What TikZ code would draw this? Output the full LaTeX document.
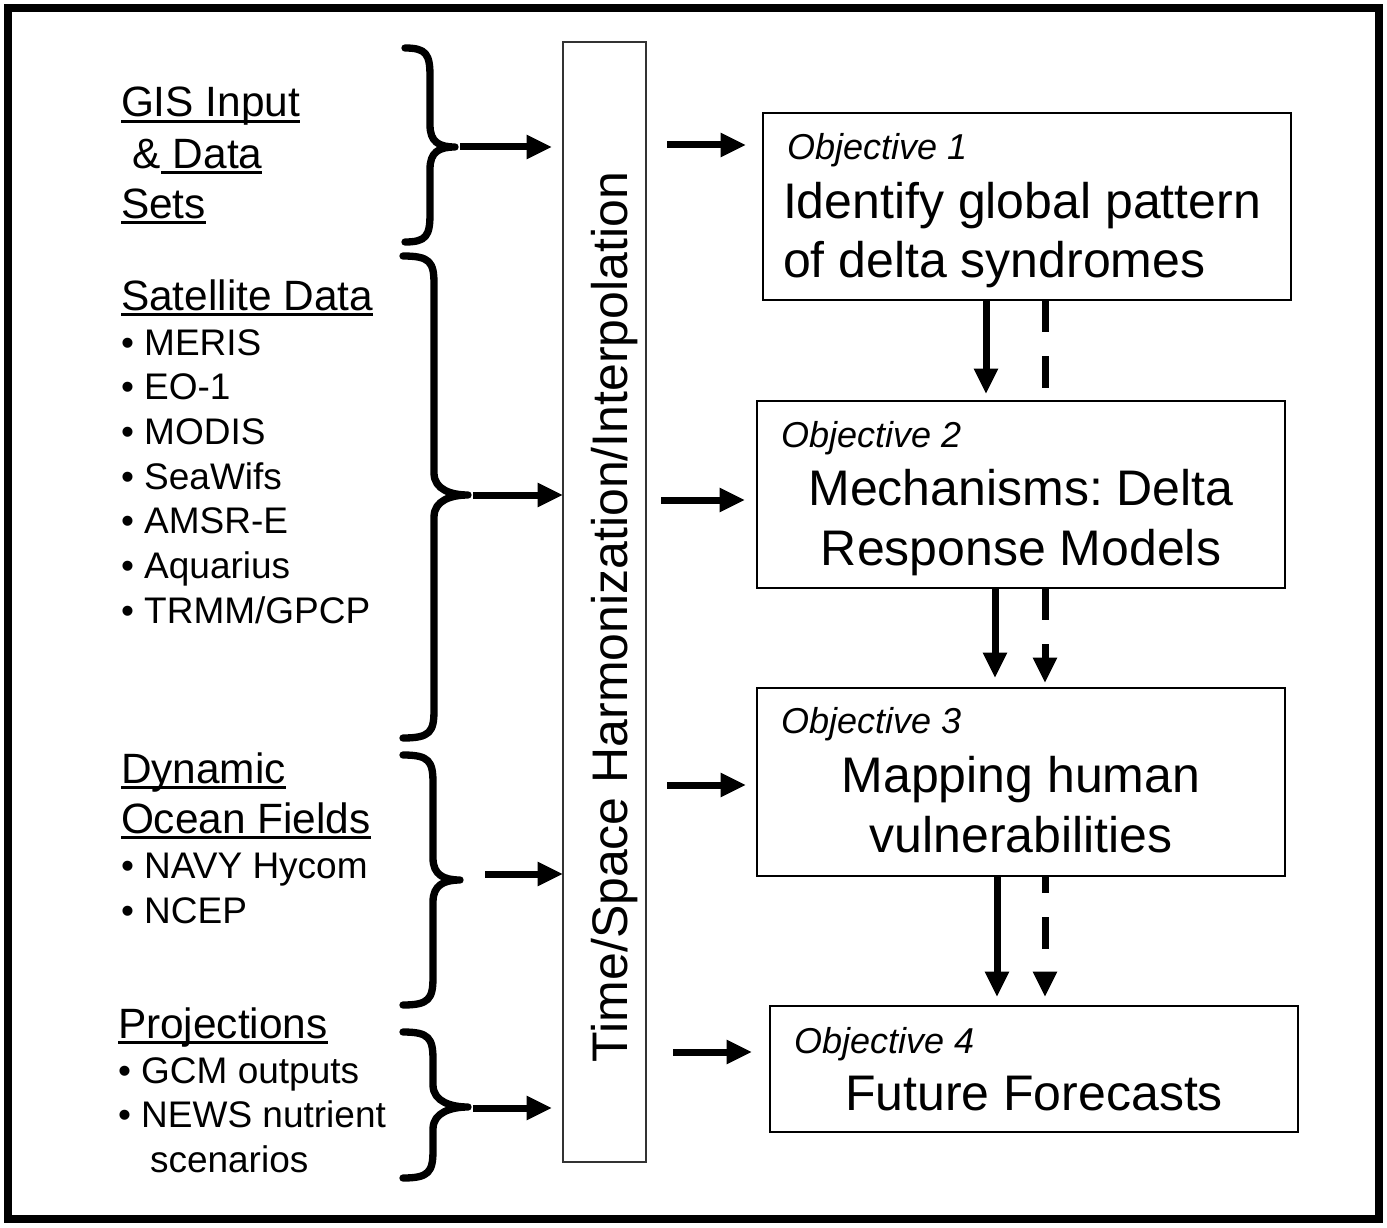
\documentclass[tikz,border=0pt]{standalone}
\usepackage{fontspec}
\setmainfont{Liberation Sans}
\usetikzlibrary{arrows.meta}
\frenchspacing
\newcommand\myul[1]{\setbox0\hbox{#1}\rlap{\rule[-4.6pt]{\wd0}{2.1pt}}\box0}
\newcommand\bigtxt{\fontsize{37.5}{45}\selectfont}
\newcommand\objtxt{\fontsize{27}{32}\selectfont\itshape}
\newcommand\headtxt{\fontsize{31.8}{38}\selectfont}
\newcommand\bultxt{\fontsize{27.75}{33}\selectfont}
\newcommand\mybrace[6]{%
  \draw[braceline] (#1,#4) .. controls (#2-4,#4) and (#2,#4+6) .. (#2,#4+28)
    -- (#2,#5-22) .. controls (#2,#5-5) and (#3-16,#5) .. (#3,#5)
    .. controls (#3-16,#5) and (#2,#5+5) .. (#2,#5+22)
    -- (#2,#6-28) .. controls (#2,#6-6) and (#2-4,#6) .. (#1,#6);}
\begin{document}
\begin{tikzpicture}[x=0.75pt,y=-0.75pt,
  every node/.style={inner sep=0pt,outer sep=0pt},
  arr/.style={line width=5.25pt,-{Triangle[length=19pt,width=17pt]}},
  dashline/.style={line width=5.25pt,dash pattern=on 24pt off 18pt},
  braceline/.style={line width=5.5pt,line cap=round,line join=round},
  obox/.style={draw,line width=1.5pt,rectangle},
  cbox/.style={draw=black!80,line width=1.2pt,rectangle},
  headl/.style={anchor=base west,font=\headtxt},
  bull/.style={anchor=base west,font=\bultxt},
  objl/.style={anchor=base west,font=\objtxt},
  mainl/.style={font=\bigtxt}]
\useasboundingbox (0,0) rectangle (1387,1227);
\draw[line width=6pt] (8,8) rectangle (1379,1219);

% central box
\node[cbox,minimum width=62.25pt,minimum height=840pt] (cb) at (604.5,602) {};
\node[rotate=90,anchor=base,font=\bigtxt] (cbt) at (627,617) {Time/Space Harmonization/Interpolation};

% objective boxes
\node[obox,minimum width=396pt,minimum height=140.25pt] (o1) at (1027,206.5) {};
\node[obox,minimum width=396pt,minimum height=140.25pt] (o2) at (1021,494.5) {};
\node[obox,minimum width=396pt,minimum height=141pt] (o3) at (1021,782) {};
\node[obox,minimum width=396pt,minimum height=94.5pt] (o4) at (1034,1069) {};

\node[objl] (o1a) at (787,160) {Objective 1};
\node[mainl,anchor=base west] (o1b) at (783,218) {Identify global pattern};
\node[mainl,anchor=base west] (o1c) at (783,277) {of delta syndromes};

\node[objl] (o2a) at (781,447) {Objective 2};
\node[mainl,anchor=base] (o2b) at (1021,505) {Mechanisms: Delta};
\node[mainl,anchor=base] (o2c) at (1021,565) {Response Models};

\node[objl] (o3a) at (781,733) {Objective 3};
\node[mainl,anchor=base] (o3b) at (1021,792) {Mapping human};
\node[mainl,anchor=base] (o3c) at (1021,852) {vulnerabilities};

\node[objl] (o4a) at (794,1053) {Objective 4};
\node[mainl,anchor=base] (o4b) at (1034,1110) {Future Forecasts};

% left texts
\node[headl] (g1) at (121,117) {\myul{GIS Input}};
\node[headl] (g2) at (121,168) {\ \&\myul{\ Data}};
\node[headl] (g3) at (121,218) {\myul{Sets}};

\node[headl] (s0) at (121,310) {\myul{Satellite Data}};
\foreach \t [count=\i] in {MERIS,EO-1,MODIS,SeaWifs,AMSR-E,Aquarius,TRMM/GPCP}
  \node[bull] (s\i) at (121,{355+44.67*(\i-1)}) {• \t};

\node[headl] (d1) at (121,783) {\myul{Dynamic}};
\node[headl] (d2) at (121,833) {\myul{Ocean Fields}};
\node[bull] (d3) at (121,878) {• NAVY Hycom};
\node[bull] (d4) at (121,923) {• NCEP};

\node[headl] (p1) at (118,1038) {\myul{Projections}};
\node[bull] (p2) at (118,1083) {• GCM outputs};
\node[bull] (p3) at (118,1127) {• NEWS nutrient};
\node[bull] (p4) at (150,1172) {scenarios};

% braces
\mybrace{405}{430}{455}{48}{147}{242}
\mybrace{403}{434}{468}{256}{495}{738}
\mybrace{403}{433}{460}{755}{880}{1005}
\mybrace{403}{433}{468}{1032}{1107}{1178}

% left arrows
\coordinate (a1s) at (460,147);  \coordinate (a1e) at (552,147);
\coordinate (a2s) at (473,495);  \coordinate (a2e) at (cb.west |- 0,495);
\coordinate (a3s) at (485,874);  \coordinate (a3e) at (cb.west |- 0,874);
\coordinate (a4s) at (473,1108); \coordinate (a4e) at (552,1108);
\draw[arr] (a1s) -- (a1e);
\draw[arr] (a2s) -- (a2e);
\draw[arr] (a3s) -- (a3e);
\draw[arr] (a4s) -- (a4e);

% right arrows
\coordinate (r1s) at (667,145);  \coordinate (r1e) at (746,145);
\coordinate (r2s) at (661,500);  \coordinate (r2e) at (745,500);
\coordinate (r3s) at (667,785);  \coordinate (r3e) at (746,785);
\coordinate (r4s) at (673,1052); \coordinate (r4e) at (752,1052);
\draw[arr] (r1s) -- (r1e);
\draw[arr] (r2s) -- (r2e);
\draw[arr] (r3s) -- (r3e);
\draw[arr] (r4s) -- (r4e);

% vertical arrows
\coordinate (v12) at (986,394);
\coordinate (w12) at (1045,390);
\draw[arr] (o1.south -| v12) -- (v12);
\draw[dashline] (o1.south -| w12) -- (w12);
\coordinate (v23) at (995,678);
\coordinate (w23) at (1045,683);
\draw[arr] (o2.south -| v23) -- (v23);
\draw[arr,dashline] (o2.south -| w23) -- (w23);
\coordinate (v34) at (997,997);
\coordinate (w34) at (1045,997);
\draw[arr] (o3.south -| v34) -- (v34);
\draw[arr,dashline,dash phase=11pt] (o3.south -| w34) -- (w34);
\end{tikzpicture}
\end{document}
